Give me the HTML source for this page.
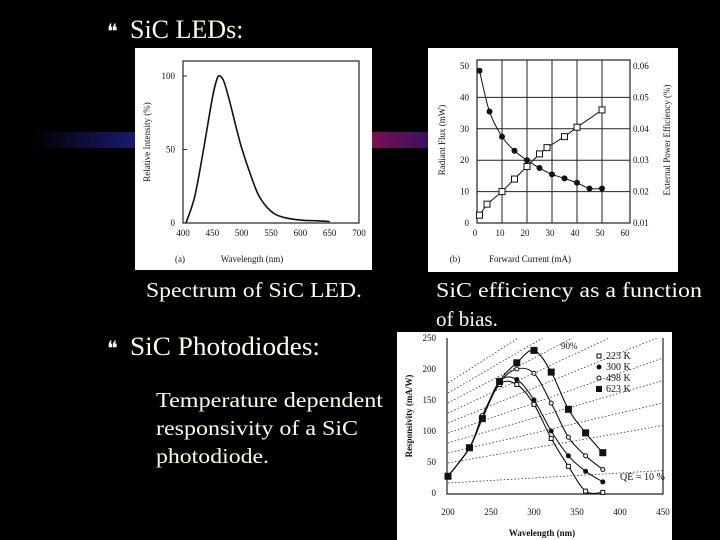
<!DOCTYPE html>
<html><head><meta charset="utf-8"><style>
html,body{margin:0;padding:0;background:#000;width:720px;height:540px;overflow:hidden}
svg{display:block}
.t{font-family:"Liberation Serif",serif;fill:#fffbe6}
.k{font-family:"Liberation Serif",serif;fill:#111}
</style></head><body>
<svg id="s" width="720" height="540" viewBox="0 0 720 540" xmlns="http://www.w3.org/2000/svg">
<defs>
<linearGradient id="gb" x1="0" x2="1"><stop offset="0" stop-color="#000"/><stop offset="1" stop-color="#1a1a70"/></linearGradient>
<linearGradient id="gm" x1="0" x2="1"><stop offset="0" stop-color="#7a1050"/><stop offset="1" stop-color="#3a1060"/></linearGradient>
<clipPath id="c3"><rect x="447" y="338" width="216" height="156"/></clipPath>
</defs>
<rect x="30" y="132" width="106" height="16" fill="url(#gb)"/>
<rect x="372" y="132" width="57" height="16" fill="url(#gm)"/>

<text class="t" x="107" y="38" font-size="20">❝</text>
<text class="t" x="130" y="38" font-size="26">SiC LEDs:</text>
<text class="t" x="146" y="297" font-size="21" textLength="216" lengthAdjust="spacingAndGlyphs">Spectrum of SiC LED.</text>
<text class="t" x="436" y="297" font-size="21" textLength="266" lengthAdjust="spacingAndGlyphs">SiC efficiency as a function</text>
<text class="t" x="436" y="326" font-size="21">of bias.</text>
<text class="t" x="107" y="355" font-size="20">❝</text>
<text class="t" x="130" y="355" font-size="26" textLength="190" lengthAdjust="spacingAndGlyphs">SiC Photodiodes:</text>
<text class="t" x="156" y="407" font-size="21" textLength="227" lengthAdjust="spacingAndGlyphs">Temperature dependent</text>
<text class="t" x="156" y="435" font-size="21" textLength="202" lengthAdjust="spacingAndGlyphs">responsivity of a SiC</text>
<text class="t" x="156" y="463" font-size="21" textLength="113" lengthAdjust="spacingAndGlyphs">photodiode.</text>

<rect x="135" y="48" width="237" height="222" fill="#fff"/>
<rect x="428" y="48" width="250" height="224" fill="#fff"/>
<rect x="397" y="332" width="275" height="208" fill="#fff"/>
<g id="g1"></g>
<g id="g2"></g>
<g id="g3"></g>
</svg>
<script>
// Chart 1: spectrum
const specX=[405,420,435,450,458,463,470,480,490,500,515,530,550,570,600,630,650];
const specY=[0,18,50,85,98,100,96,82,66,51,33,18,8,4,2,1.5,1];
const specXTicks=[400,450,500,550,600,650,700];
const specYTicks=[0,50,100];
// Chart 2: efficiency vs current
const effCircX=[1,5,10,15,20,25,30,35,40,45,50];
const effCircY=[48.5,35.5,27.5,23,20,17.5,15.5,14.2,12.8,11,11];
const effSqX=[1,4,10,15,20,25,28,35,40,50];
const effSqY=[2.5,6,10,14,18,22,24,27.5,30.5,36];
const effXTicks=[0,10,20,30,40,50,60];
const effYTicks=[0,10,20,30,40,50];
const effY2Ticks=["0.01","0.02","0.03","0.04","0.05","0.06"];
// Chart 3: responsivity
const respX=[200,225,240,260,280,300,320,340,360,380];
const resp223=[27,73,122,175,175,143,88,43,3,1];
const resp300=[27,73,122,180,183,150,100,60,35,18];
const resp498=[27,73,125,178,200,193,145,90,60,38];
const resp623=[27,73,120,180,210,230,195,135,97,65];
const respXTicks=[200,250,300,350,400,450];
const respYTicks=[0,50,100,150,200,250];
const qeLevels=[10,30,40,50,60,70,80,90,100,110];
const NS="http://www.w3.org/2000/svg";
function mk(p,tag,a){const e=document.createElementNS(NS,tag);for(const k in a)e.setAttribute(k,a[k]);p.appendChild(e);return e;}
function txt(p,x,y,s,fs,anchor,rot){const e=mk(p,'text',{x:x,y:y,'font-size':fs,'text-anchor':anchor||'middle',class:'k'});if(rot)e.setAttribute('transform','rotate(-90 '+x+' '+y+')');e.textContent=s;return e;}
function path(xs,ys,fx,fy){return xs.map((v,i)=>(i?'L':'M')+fx(v).toFixed(1)+','+fy(ys[i]).toFixed(1)).join('');}
function smooth(xs,ys,fx,fy){const P=xs.map((v,i)=>[fx(v),fy(ys[i])]);let d='M'+P[0];for(let i=0;i<P.length-1;i++){const p0=P[i-1]||P[i],p1=P[i],p2=P[i+1],p3=P[i+2]||p2;d+='C'+(p1[0]+(p2[0]-p0[0])/6)+','+(p1[1]+(p2[1]-p0[1])/6)+' '+(p2[0]-(p3[0]-p1[0])/6)+','+(p2[1]-(p3[1]-p1[1])/6)+' '+p2;}return d;}

// ---- chart 1
(function(){const g=document.getElementById('g1');
const x=v=>183+(v-400)*(176/300), y=v=>223-v*1.47;
let e=mk(g,'rect',{x:183,y:61,width:176,height:162,fill:'none',stroke:'#222','stroke-width':1.2});


specXTicks.forEach(v=>{const t=txt(g,x(v),236,v,9);});
specYTicks.forEach(v=>{const t=txt(g,175,y(v)+3,v,9,'end');mk(g,'line',{x1:183,x2:187,y1:y(v),y2:y(v),stroke:'#222'});});
e=mk(g,'path',{d:smooth(specX,specY,x,y),fill:'none',stroke:'#111','stroke-width':1.6});


e=txt(g,252,262,'Wavelength (nm)',9);
e=txt(g,180,262,'(a)',9);
e=txt(g,150,142,'Relative Intensity (%)',9,'middle',true);
})();

// ---- chart 2
(function(){const g=document.getElementById('g2');
const x=v=>477+v*2.5, y=v=>223-v*3.14;
effXTicks.slice(1,6).forEach(v=>mk(g,'line',{x1:x(v),x2:x(v),y1:60,y2:223,stroke:'#222','stroke-width':1}));
effYTicks.slice(1,5).forEach(v=>mk(g,'line',{x1:477,x2:630,y1:y(v),y2:y(v),stroke:'#222','stroke-width':1}));
let e=mk(g,'rect',{x:477,y:60,width:153,height:163,fill:'none',stroke:'#222','stroke-width':1.2});


effXTicks.forEach(v=>{const t=txt(g,x(v)-2,236,v,9);});
effYTicks.forEach(v=>{const t=txt(g,469,y(v)+3,v,9,'end');});
effY2Ticks.forEach((s,i)=>{const t=txt(g,633,y(i*10)+3,s,9,'start');});
e=mk(g,'path',{d:smooth(effCircX,effCircY,x,y),fill:'none',stroke:'#111','stroke-width':1});


e=mk(g,'path',{d:path(effSqX,effSqY,x,y),fill:'none',stroke:'#111','stroke-width':1});


effCircX.forEach((v,i)=>{const c=mk(g,'circle',{cx:x(v),cy:y(effCircY[i]),r:3,fill:'#111'});});
effSqX.forEach((v,i)=>{const c=mk(g,'rect',{x:x(v)-3,y:y(effSqY[i])-3,width:6,height:6,fill:'#fff',stroke:'#111'});});
e=txt(g,530,262,'Forward Current (mA)',9);
e=txt(g,455,262,'(b)',9);
e=txt(g,445,140,'Radiant Flux (mW)',9,'middle',true);
e=txt(g,670,140,'External Power Efficiency   (%)',9,'middle',true);
})();

// ---- chart 3
(function(){const g=document.getElementById('g3');
const x=v=>448+(v-200)*0.86, y=v=>493-v*0.62;
const cg=mk(g,'g',{'clip-path':'url(#c3)'});
qeLevels.forEach(q=>{const l=mk(cg,'line',{x1:x(200),y1:y(q*200/1.24/100),x2:x(460),y2:y(q*460/1.24/100),stroke:'#333','stroke-width':0.8,'stroke-dasharray':'1.5,2'});});
let e=mk(g,'path',{d:'M447,338V494H663V338',fill:'none',stroke:'#222','stroke-width':1.2});


respXTicks.forEach(v=>{const t=txt(g,x(v),515,v,9);});
respYTicks.forEach(v=>{const t=txt(g,436,y(v)+3,v,9,'end');});
const series=[[resp223,'sq-open','series-223k'],[resp300,'circ-fill','series-300k'],[resp498,'circ-open','series-498k'],[resp623,'sq-fill','series-623k']];
series.forEach(([ys,m,n])=>{const p=mk(g,'path',{d:smooth(respX,ys,x,y),fill:'none',stroke:'#111','stroke-width':1.1});
respX.forEach((v,i)=>{let c;const cx=x(v),cy=y(ys[i]);
if(m==='sq-open')c=mk(g,'rect',{x:cx-2,y:cy-2,width:4,height:4,fill:'#fff',stroke:'#111'});
else if(m==='sq-fill')c=mk(g,'rect',{x:cx-3.5,y:cy-3.5,width:7,height:7,fill:'#111'});
else if(m==='circ-fill')c=mk(g,'circle',{cx:cx,cy:cy,r:2.5,fill:'#111'});
else c=mk(g,'circle',{cx:cx,cy:cy,r:2,fill:'#fff',stroke:'#111'});
});});
const leg=[['223 K','sq-open'],['300 K','circ-fill'],['498 K','circ-open'],['623 K','sq-fill']];
leg.forEach(([s,m],i)=>{const ly=356+i*11;const t=txt(g,606,ly+3,s,10,'start');
if(m==='sq-open')mk(g,'rect',{x:597,y:ly-2,width:4,height:4,fill:'#fff',stroke:'#111'});else if(m==='sq-fill')mk(g,'rect',{x:596,y:ly-3,width:6,height:6,fill:'#111'});else if(m==='circ-fill')mk(g,'circle',{cx:599,cy:ly,r:2.5,fill:'#111'});else mk(g,'circle',{cx:599,cy:ly,r:2,fill:'#fff',stroke:'#111'});});
e=txt(g,561,349,'90%',9,'start');
e=txt(g,620,480,'QE = 10 %',10,'start');
e=txt(g,542,536,'Wavelength (nm)',9);e.setAttribute('font-weight','bold');
e=txt(g,412,416,'Responsivity (mA/W)',9,'middle',true);e.setAttribute('font-weight','bold');
})();
</script>
</body></html>
